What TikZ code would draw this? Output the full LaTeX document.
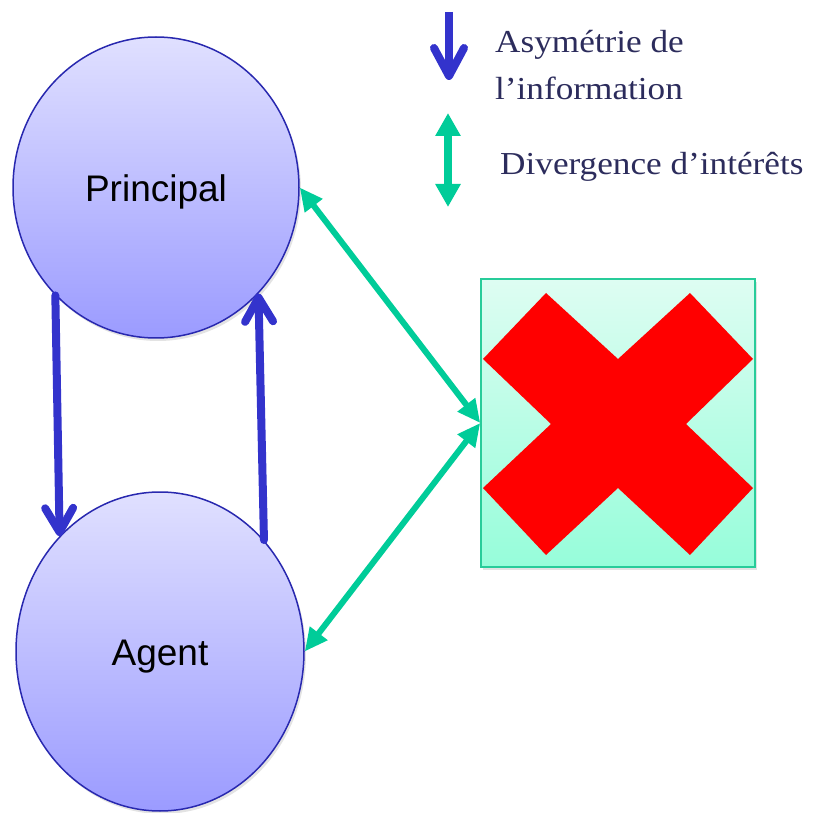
\documentclass[tikz,border=0pt]{standalone}
\usepackage{fontspec}
\setmainfont{Liberation Serif}
\newfontfamily\legendfont[FakeStretch=1.1]{Liberation Serif}
\newfontfamily\labelfont{Liberation Sans}
\usetikzlibrary{arrows.meta,shapes.geometric,shadows}
\definecolor{lavTop}{RGB}{224,224,255}
\definecolor{lavBot}{RGB}{155,155,255}
\definecolor{lavLine}{RGB}{40,40,175}
\definecolor{infoBlue}{RGB}{51,51,204}
\definecolor{divGreen}{RGB}{0,204,153}
\definecolor{boxTop}{RGB}{222,253,242}
\definecolor{boxBot}{RGB}{150,253,218}
\definecolor{boxLine}{RGB}{40,204,154}
\definecolor{legendText}{RGB}{44,44,92}
\definecolor{crossRed}{RGB}{255,0,0}
\tikzset{
  actor/.style={ellipse, draw=lavLine, line width=1.5pt, top color=lavTop, bottom color=lavBot,
    inner sep=0pt, font=\labelfont\fontsize{37}{44}\selectfont,
    drop shadow={opacity=0.22, shadow xshift=2pt, shadow yshift=-3pt}},
  infoarrow/.style={draw=infoBlue, line width=8pt, line cap=round,
    -{Straight Barb[length=24pt, width=28pt, round]}},
  divarrow/.style={draw=divGreen, line width=6pt,
    {Triangle[length=23pt, width=21pt]}-{Triangle[length=23pt, width=21pt]}},
  legendtxt/.style={anchor=base west, inner sep=0pt, text=legendText,
    font=\legendfont\fontsize{32}{38}\selectfont},
}
\begin{document}
\begin{tikzpicture}[x=1pt, y=-1pt]
\useasboundingbox (0,0) rectangle (815,813);

% actors
\node[actor, minimum width=286pt, minimum height=301pt] (P) at (156,187.5) {\raisebox{-14.5pt}[0pt][0pt]{Principal}};
\node[actor, minimum width=288pt, minimum height=319pt] (A) at (160,651.5) {\raisebox{-13.5pt}[0pt][0pt]{Agent}};

% box with cross
\node[draw=boxLine, line width=1.5pt, top color=boxTop, bottom color=boxBot,
  minimum width=274pt, minimum height=288pt, inner sep=0pt,
  drop shadow={opacity=0.22, shadow xshift=2pt, shadow yshift=-3pt}] (B) at (618,423) {};
\fill[crossRed] (483,359) -- (546,293) -- (618,359) -- (690,293) -- (753,359) -- (686,424)
  -- (753,488) -- (690,555) -- (618,488) -- (546,555) -- (483,488) -- (551,424) -- cycle;

% information asymmetry arrows
\draw[infoarrow] (P.-133) -- (A.131.6);
\draw[infoarrow] (A.47.8) -- (P.-46);

% divergence arrows
\draw[divarrow] (P.east) -- (B.west);
\draw[divarrow] (B.west) -- (A.east);

% legend
\coordinate (l1s) at (449,12);
\coordinate (l1e) at (449,80);
\draw[draw=infoBlue, line width=8pt, -{Straight Barb[length=28pt, width=30pt, round]}] (l1s) -- (l1e);
\coordinate (l2s) at (448,113);
\coordinate (l2e) at (448,207);
\draw[draw=divGreen, line width=8pt,
  {Triangle[length=23pt, width=24pt]}-{Triangle[length=23pt, width=24pt]}] (l2s) -- (l2e);

\node[legendtxt] (t1) at (495,53) {Asymétrie de};
\node[legendtxt] (t2) at (495,100) {l’information};
\node[legendtxt] (t3) at (500,175) {Divergence d’intérêts};
\end{tikzpicture}
\end{document}
